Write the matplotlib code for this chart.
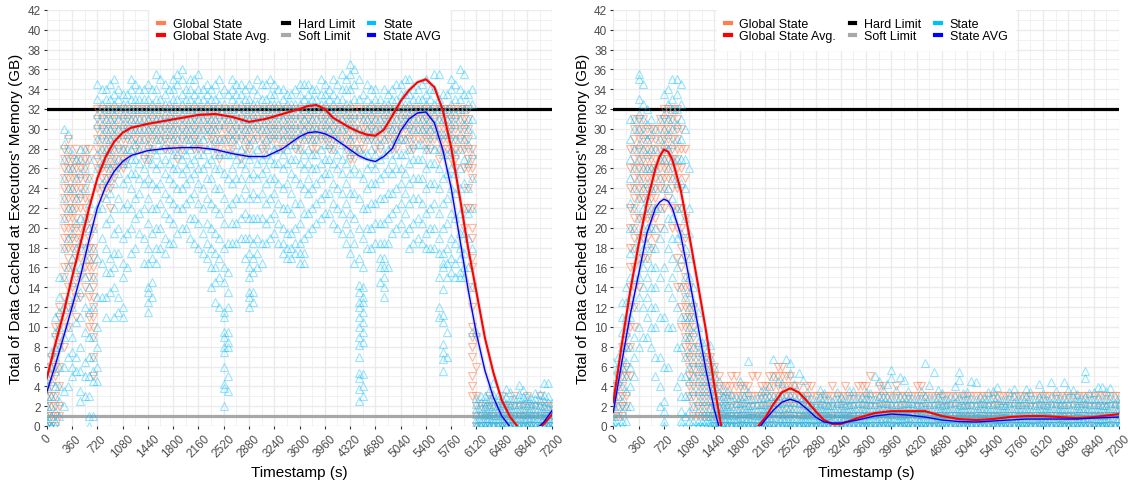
import numpy as np
import matplotlib.pyplot as plt
from matplotlib.lines import Line2D

plt.rcParams['font.family'] = ['Liberation Sans', 'DejaVu Sans']

HARD_LIMIT = 32
SOFT_LIMIT = 1

# ---------------- left run ----------------
# executor state readings, columns every 120 s (two interleaved grids)
left_state_t = list(range(0, 7201, 120))
left_state_y = [
    [0, 0, 0.5, 1, 2, 3, 4, 5, 6],
    [0, 0.5, 1.5, 3, 4, 5.5, 7, 8, 9.5, 11],
    [2, 3.5, 6, 9, 12, 15, 18, 21, 23, 25, 27, 28.5, 30],
    [5, 6, 7.5, 9, 12, 14.5, 17, 19.5, 22, 24, 26, 27.5],
    [2.5, 3.5, 5.5, 8, 11, 13.5, 16, 18.5, 21, 23.5, 25.5, 27, 28],
    [0, 1, 3, 5, 7, 9, 11.5, 14, 17, 20, 22.5, 25, 27],
    [4.5, 6, 8, 10, 13, 17, 22, 26, 27.5, 29, 30.5, 31.5, 33, 34.5],
    [11, 13, 15.5, 18, 20.5, 23, 25, 26.5, 28, 29, 30, 31, 32, 33, 34],
    [11, 14, 16, 17.5, 19.5, 22, 24.5, 26.5, 28, 29.5, 30.5, 31.5, 32.5, 33.5, 35],
    [11, 12, 15, 16.5, 19, 22, 24.5, 26.5, 28, 29.5, 30.5, 31.5, 32.5, 33.5],
    [17.5, 20, 22, 24, 25.5, 27, 28, 29, 30, 31, 32, 33, 34, 35],
    [19.5, 21.5, 23.5, 25, 26.5, 28, 29, 30, 31, 32, 33, 34],
    [11.5, 12.5, 13.5, 14, 16.5, 18, 20.5, 23, 25, 27, 28.5, 30, 31, 32, 33, 34.5],
    [16.5, 18, 20, 22, 24, 26, 27.5, 29, 30, 31, 32, 33, 34, 35.5],
    [17.5, 19, 21.5, 23.5, 25.5, 27, 28.5, 29.5, 30.5, 31.5, 32.5, 33.5, 34.5],
    [18.5, 20.5, 22.5, 24.5, 26, 27.5, 29, 30, 31, 32, 33, 34, 35],
    [20, 22, 24, 25.5, 27, 28, 29.5, 30.5, 31.5, 32.5, 33.5, 35, 36],
    [19, 21, 23, 25, 26.5, 28, 29, 30, 31, 32, 33, 34, 35],
    [18, 20.5, 22.5, 24.5, 26, 27.5, 29, 30, 31, 32, 33, 34, 35.5],
    [17, 18.5, 20.5, 23, 25, 26.5, 28, 29.5, 30.5, 31.5, 32.5, 33.5, 34.5],
    [12.5, 14.5, 16, 17.5, 19.5, 22, 24, 26, 27.5, 29, 30, 31, 32, 33, 34.5],
    [2, 3.8, 4.2, 6, 7.5, 8, 9, 9.5, 11, 11.5, 14.5, 16, 18, 20.5, 23, 25.5, 27.5, 29, 30.5, 31.5, 32.5, 34],
    [18.5, 20.5, 22.5, 24.5, 26, 27.5, 29, 30, 31, 32, 33, 34, 35],
    [19, 21, 23, 25, 26.5, 28, 29.5, 30.5, 31.5, 32.5, 33.5, 34.5],
    [12, 13, 13.5, 15, 16, 17.5, 19, 21, 23, 25, 27, 28.5, 30, 31, 32, 33, 34.5],
    [16, 17.5, 19, 21, 23, 25, 26.5, 28, 29.5, 30.5, 31.5, 32.5, 33.5, 35],
    [18.5, 20.5, 22.5, 24.5, 26, 27.5, 29, 30, 31, 32, 33, 34.5],
    [19.5, 21.5, 23.5, 25, 26.5, 28, 29.5, 30.5, 31.5, 32.5, 33.5, 34.5],
    [17.5, 18.5, 20, 22, 24, 26, 27.5, 29, 30, 31, 32, 33, 34],
    [17, 18, 19.5, 21.5, 23.5, 25.5, 27, 28.5, 29.5, 30.5, 31.5, 32.5, 33.5],
    [16.5, 17.5, 18.5, 20.5, 22.5, 24.5, 26.5, 28, 29.5, 30.5, 31.5, 32.5, 33.5, 34.5],
    [19.5, 21.5, 23.5, 25, 26.5, 28, 29.5, 30.5, 31.5, 32.5, 33.5, 34.5],
    [20.5, 22.5, 24.5, 26, 27.5, 29, 30, 31, 32, 33, 34],
    [21.5, 23.5, 25.5, 27, 28.5, 29.5, 30.5, 31.5, 32.5, 33.5, 34.5],
    [20.5, 22.5, 24.5, 26.5, 28, 29.5, 30.5, 31.5, 32.5, 33.5, 35],
    [19.5, 21.5, 23.5, 25.5, 27, 28.5, 30, 31, 32, 33, 34, 35.5],
    [17.5, 19.5, 21.5, 23.5, 25.5, 27.5, 29, 30.5, 31.5, 32.5, 34, 35.5, 36.5],
    [2.5, 3.7, 4.8, 5.3, 7, 8.2, 9, 10, 11, 12, 12.5, 13.5, 14.2, 17, 20, 23, 25.5, 28, 30, 31.5, 33, 35],
    [18, 20, 22, 24, 26, 27.5, 29, 30, 31, 32, 33, 34.5],
    [18.5, 20.5, 22.5, 24.5, 26, 27.5, 29, 30, 31, 32, 33, 34],
    [13, 14, 15, 16, 17, 18.5, 20.5, 23, 25.5, 27.5, 29, 30.5, 31.5, 32.5, 34],
    [19.5, 21.5, 23.5, 25.5, 27, 28.5, 30, 31, 32, 33, 34],
    [20.5, 22.5, 24.5, 26, 27.5, 29, 30.5, 31.5, 32.5, 33.5, 34.5],
    [18, 20, 22.5, 24.5, 26.5, 28, 29.5, 30.5, 31.5, 32.5, 33.5, 35],
    [19, 21, 23, 25, 27, 28.5, 30, 31, 32, 33, 34],
    [18, 19.5, 21.5, 24, 26, 28, 29.5, 30.5, 31.5, 32.5, 33.5, 35],
    [18, 20, 22.5, 24.5, 26.5, 28, 29.5, 30.5, 31.5, 32.5, 34, 35.5],
    [5.5, 6.8, 7.5, 8.3, 10.5, 11.2, 13.8, 16, 16.5, 17.5, 20, 22.5, 25, 27.5, 29.5, 31, 32, 33.5],
    [15.5, 17, 19, 21.5, 24, 26, 28, 29.5, 30.5, 31.5, 32.5, 34, 35],
    [15, 15.5, 17, 18, 19.5, 21.5, 24, 26, 28, 29.5, 31, 32, 33, 34, 36],
    [16, 19, 21.5, 24, 26.5, 28.5, 30, 31, 32.5, 33.5],
    [0, 0, 0.3, 0.7, 1.2, 1.7, 2.2, 2.8, 9.5],
    [0, 0, 0.4, 0.8, 1.2, 1.6, 2, 2.5, 3],
    [0, 0, 0.3, 0.7, 1.1, 1.5, 2, 2.5, 3.2, 4.3],
    [0, 0, 0.4, 0.8, 1.3, 1.8, 2.3, 2.8],
    [0, 0, 0.3, 0.7, 1.1, 1.6, 2.1, 2.6, 3.4],
    [0, 0, 0.4, 0.9, 1.3, 1.7, 2.2, 2.7, 3.2, 4.1],
    [0, 0, 0.3, 0.8, 1.2, 1.6, 2.1, 2.6, 3],
    [0, 0, 0.4, 0.8, 1.2, 1.7, 2.2, 2.7, 3.3],
    [0, 0, 0.3, 0.7, 1.1, 1.5, 2, 2.5, 3.1, 4.3],
    [0, 0, 0.4, 0.8, 1.2, 1.7, 2.3],
]
left_state_t_b = list(range(60, 7200, 120))
left_state_y_b = [
    [0, 0, 1, 2, 3, 4.5, 6, 7.5],
    [1, 2.5, 4, 6, 8, 10, 11.5, 13, 15],
    [4, 7, 10, 13, 16, 19, 22, 24, 26, 28, 29.5],
    [5.5, 7, 10.5, 13, 15.5, 18, 20.5, 23, 25, 27],
    [3, 5, 6.5, 9.5, 12, 15, 18, 21, 24, 26, 28],
    [1, 4.5, 5.5, 7, 9, 12, 15, 18, 20],
    [13, 16.5, 19, 22, 24.5, 26.5, 28, 29.5, 30.5, 31.5, 32.5, 34],
    [13.5, 15.5, 17, 21, 23.5, 26, 27.5, 29, 30, 31, 32, 33, 34.5],
    [11.5, 13, 17.5, 20, 23, 25.5, 27, 28.5, 30, 31, 32, 33, 34],
    [16, 19.5, 22.5, 25, 26.5, 28, 29.5, 30.5, 31.5, 32.5, 33.5],
    [18, 21, 23, 25.5, 27, 28.5, 30, 31, 32, 33, 34.5],
    [16.5, 19, 22, 24.5, 26, 27.5, 29, 30, 31, 32, 33, 34],
    [13, 14.5, 17, 19.5, 22, 24.5, 26.5, 28, 29.5, 30.5, 31.5, 32.5, 34],
    [18, 20, 22.5, 24.5, 26.5, 28, 29, 30, 31, 32, 33, 35],
    [18.5, 21, 23, 25, 26.5, 28, 29.5, 30.5, 31.5, 32.5, 34],
    [19.5, 22, 24, 26, 27.5, 29, 30, 31, 32, 33, 34.5, 35.5],
    [20, 22.5, 24.5, 26, 27.5, 29, 30, 31, 32, 33, 34],
    [18.5, 21, 23.5, 25.5, 27, 28.5, 29.5, 30.5, 31.5, 32.5, 33.5, 35],
    [17.5, 19.5, 22, 24, 26, 27.5, 29, 30, 31, 32, 33, 34],
    [14, 16, 18, 20, 22.5, 25, 27, 28.5, 30, 31, 32, 33, 34],
    [12, 15, 17, 19, 21.5, 24, 26, 27.5, 29, 30.5, 31.5, 32.5, 33.5, 35],
    [3.5, 5, 8, 8.5, 9.5, 12, 13.5, 15.5, 18.5, 22, 25, 27.5, 29.5, 31, 32, 33.5],
    [18.5, 20.5, 23, 25, 27, 28.5, 29.5, 30.5, 31.5, 32.5, 33.5, 34.5],
    [17, 19, 21.5, 24, 26, 27.5, 29, 30, 31, 32, 33, 34],
    [12.5, 13.5, 15.5, 17, 18.5, 21, 23.5, 25.5, 27.5, 29, 30.5, 31.5, 32.5, 34],
    [16.5, 18.5, 21, 23.5, 25.5, 27, 28.5, 30, 31, 32, 33, 34.5],
    [19, 21, 23, 25, 27, 28.5, 29.5, 30.5, 31.5, 32.5, 33.5, 35],
    [18.5, 20.5, 22.5, 24.5, 26.5, 28, 29.5, 30.5, 31.5, 32.5, 34],
    [17, 18, 19.5, 22, 24.5, 26.5, 28, 29.5, 30.5, 31.5, 32.5, 33.5],
    [17.5, 18.5, 20, 22.5, 25, 27, 28.5, 29.5, 30.5, 31.5, 32.5, 34],
    [16.5, 17.5, 19, 21.5, 24, 26, 27.5, 29, 30, 31, 32, 33, 34.5],
    [20, 22, 24, 26, 27.5, 29, 30, 31, 32, 33, 34],
    [21, 23, 25, 26.5, 28, 29.5, 30.5, 31.5, 32.5, 33.5, 35],
    [21.5, 23.5, 25.5, 27, 28.5, 30, 31, 32, 33, 34],
    [20, 22, 24, 26, 27.5, 29, 30, 31, 32, 33, 34.5],
    [18.5, 20.5, 22.5, 24.5, 26.5, 28, 29.5, 30.5, 31.5, 32.5, 34, 35],
    [16.5, 18.5, 21, 23.5, 26, 28, 29.5, 30.5, 31.5, 33, 34.5, 36],
    [3, 4, 5.2, 8.5, 9.5, 10.5, 11.5, 12.5, 13, 14, 16, 19, 22, 25, 27.5, 29.5, 31, 32, 33.5],
    [18, 20, 22.5, 24.5, 26.5, 28, 29.5, 30.5, 31.5, 32.5, 34],
    [14.5, 16, 17, 18.5, 20.5, 23, 25, 27, 28.5, 30, 31, 32, 33],
    [16, 18.5, 21, 23.5, 26, 28, 29.5, 30.5, 31.5, 32.5, 33.5],
    [20, 22, 24, 26, 27.5, 29, 30, 31, 32, 33, 34.5],
    [19.5, 21.5, 23.5, 25.5, 27.5, 29, 30.5, 31.5, 32.5, 33.5, 35],
    [18.5, 20.5, 23, 25, 27, 28.5, 30, 31, 32, 33, 34],
    [18.5, 20.5, 22.5, 25, 27, 28.5, 30, 31, 32, 33, 34.5],
    [18, 20, 22, 24.5, 26.5, 28.5, 30, 31, 32, 33, 34],
    [11, 12, 15, 17.5, 19, 21.5, 24, 26, 28, 29.5, 31, 32, 33, 35.5],
    [7, 9.5, 15, 16.5, 18, 20.5, 23, 25.5, 27.5, 29.5, 31, 32, 33.5],
    [15, 16.5, 18.5, 21, 23.5, 25.5, 27.5, 29, 30.5, 31.5, 33, 34.5],
    [15, 16, 17.5, 19.5, 22, 24.5, 27, 29, 30.5, 32, 33.5, 35.5],
    [9.5, 14, 18, 22, 25, 27.5, 29.5, 31, 32.5, 34],
    [0, 0, 0.4, 0.8, 1.3, 1.8, 2.4, 3],
    [0, 0, 0.3, 0.8, 1.2, 1.7, 2.2, 2.7, 3.5],
    [0, 0, 0.4, 0.7, 1.1, 1.6, 2.1, 2.6, 3.1],
    [0, 0, 0.3, 0.8, 1.3, 1.8, 2.3, 2.9, 3.7],
    [0, 0, 0.4, 0.8, 1.2, 1.7, 2.2, 2.8],
    [0, 0, 0.3, 0.7, 1.2, 1.7, 2.3, 2.9, 3.6],
    [0, 0, 0.4, 0.9, 1.3, 1.8, 2.3, 2.8],
    [0, 0, 0.3, 0.8, 1.2, 1.6, 2.1, 2.6, 3.2],
    [0, 0, 0.4, 0.8, 1.3, 1.8, 2.4, 3, 4.3],
]

# global state (integer GB levels), columns every 120 s, two grids
left_global_t = list(range(60, 7200, 120))
left_global_y = [
    [0, 1, 2, 3, 4, 5, 6, 7],
    [1, 2, 4, 6, 8, 9, 10, 11, 12],
    [10, 12, 14, 16, 17, 18, 19, 20, 21, 22, 23, 24, 25, 26, 27, 28, 29],
    [11, 13, 15, 17, 18, 19, 20, 21, 22, 23, 24, 25, 26, 27, 28],
    [14, 16, 18, 20, 21, 22, 23, 24, 25, 26, 27, 28],
    [5, 7, 9, 10, 11, 12, 13, 14, 15, 16, 17, 18, 20],
    [23, 24, 25, 26, 27, 28, 29, 30, 31, 32],
    [22, 24, 25, 26, 27, 28, 29, 30, 31, 32],
    [26, 27, 28, 29, 30, 31, 32],
    [27, 28, 29, 30, 31, 32],
    [28, 29, 30, 31, 32],
    [27, 29, 30, 31, 32],
    [28, 29, 30, 31, 32],
    [29, 30, 31, 32],
    [28, 29, 30, 31, 32],
    [27, 28, 29, 30, 31, 32],
    [29, 30, 31, 32],
    [28, 29, 30, 31, 32],
    [28, 30, 31, 32],
    [29, 30, 31, 32],
    [27, 28, 29, 30, 31, 32],
    [28, 29, 30, 31, 32],
    [29, 30, 31, 32],
    [28, 29, 30, 31, 32],
    [29, 30, 31, 32],
    [28, 29, 30, 31, 32],
    [29, 30, 31, 32],
    [28, 29, 30, 31, 32],
    [29, 30, 31, 32],
    [28, 29, 30, 31, 32],
    [29, 30, 31, 32],
    [28, 29, 30, 31, 32],
    [29, 30, 31, 32],
    [28, 29, 30, 31, 32],
    [29, 30, 31, 32],
    [28, 29, 30, 31, 32],
    [27, 28, 29, 30, 31, 32],
    [28, 29, 30, 31, 32],
    [29, 30, 31, 32],
    [28, 29, 30, 31, 32],
    [29, 30, 31, 32],
    [28, 29, 30, 31, 32],
    [29, 30, 31, 32],
    [28, 29, 30, 31, 32],
    [29, 30, 31, 32],
    [28, 29, 30, 31, 32],
    [27, 28, 29, 30, 31, 32],
    [28, 29, 30, 31, 32],
    [26, 27, 28, 29, 30, 31, 32],
    [20, 22, 26, 28, 29, 30, 31, 32],
    [3, 4, 5, 7, 8, 9, 10, 12, 14, 16, 17, 19, 20, 22, 25, 26, 27, 28],
    [0, 1, 2],
    [0, 1, 2, 3],
    [0, 1, 2],
    [0, 1, 2],
    [0, 1, 2, 3],
    [0, 1, 2],
    [0, 1, 2],
    [0, 1, 2, 3],
    [0, 1, 2],
]
left_global_t_b = list(range(0, 7201, 120))
left_global_y_b = [
    [0, 1, 2, 3, 4],
    [0, 1, 2, 3, 5, 6, 7, 9, 10],
    [8, 11, 13, 15, 16, 18, 19, 20, 21, 22, 23, 24, 25, 26, 27, 28],
    [12, 14, 16, 18, 19, 20, 21, 22, 23, 24, 25, 26, 27],
    [13, 15, 17, 19, 20, 22, 23, 24, 25, 26, 27],
    [10, 11, 13, 15, 16, 17, 18, 19, 21, 23, 25, 27, 28],
    [24, 26, 27, 28, 29, 30, 31, 32],
    [24, 25, 26, 27, 28, 29, 30, 31, 32],
    [25, 26, 27, 28, 29, 30, 31, 32],
    [26, 27, 28, 29, 30, 31, 32],
    [29, 30, 31, 32],
    [28, 29, 30, 31, 32],
    [27, 28, 29, 30, 31, 32],
    [29, 30, 31, 32],
    [28, 29, 30, 31, 32],
    [29, 30, 31, 32],
    [28, 29, 30, 31, 32],
    [29, 30, 31, 32],
    [28, 29, 30, 31, 32],
    [29, 30, 31, 32],
    [28, 29, 30, 31, 32],
    [29, 30, 31, 32],
    [28, 29, 30, 31, 32],
    [27, 29, 30, 31, 32],
    [28, 29, 30, 31, 32],
    [29, 30, 31, 32],
    [28, 29, 30, 31, 32],
    [29, 30, 31, 32],
    [28, 29, 30, 31, 32],
    [29, 30, 31, 32],
    [28, 29, 30, 31, 32],
    [29, 30, 31, 32],
    [28, 29, 30, 31, 32],
    [29, 30, 31, 32],
    [28, 29, 30, 31, 32],
    [29, 30, 31, 32],
    [27, 28, 29, 30, 31, 32],
    [28, 29, 30, 31, 32],
    [29, 30, 31, 32],
    [28, 29, 30, 31, 32],
    [29, 30, 31, 32],
    [28, 29, 30, 31, 32],
    [29, 30, 31, 32],
    [28, 29, 30, 31, 32],
    [29, 30, 31, 32],
    [28, 29, 30, 31, 32],
    [29, 30, 31, 32],
    [28, 29, 30, 31, 32],
    [27, 28, 29, 30, 31, 32],
    [28, 29, 30, 31, 32],
    [22, 24, 26, 27, 28, 29, 30, 31, 32],
    [0, 1, 2, 3, 6, 9],
    [0, 1, 2],
    [0, 1, 2],
    [0, 1, 2, 3],
    [0, 1, 2],
    [0, 1, 2],
    [0, 1, 2, 3],
    [0, 1, 2],
    [0, 1, 2],
    [0, 1, 2],
]

# smoothed averages
left_avg_t = [0, 120, 240, 360, 480, 600, 720, 840, 960, 1080, 1200, 1440, 1680,
              1920, 2160, 2400, 2640, 2880, 3120, 3360, 3600, 3720, 3840, 3960,
              4080, 4200, 4320, 4440, 4560, 4680, 4800, 4920, 5040, 5160, 5280,
              5400, 5520, 5640, 5760, 5880, 6000, 6120, 6240, 6360, 6480, 6600,
              6720, 6840, 6960, 7080, 7200]
left_global_avg = [4.8, 8.2, 11.4, 15.0, 18.4, 21.9, 25.0, 27.2, 28.7, 29.6, 30.1,
                   30.5, 30.8, 31.1, 31.4, 31.5, 31.2, 30.7, 31.0, 31.5, 32.0, 32.3,
                   32.4, 32.0, 31.1, 30.6, 30.1, 29.7, 29.4, 29.3, 29.9, 31.3, 32.8,
                   33.9, 34.7, 35.0, 34.2, 31.9, 28.1, 23.2, 18.0, 13.5, 8.9, 5.4,
                   2.6, 0.9, -0.2, -0.6, -0.5, 0.2, 1.2]
left_state_avg = [3.4, 6.1, 9.0, 12.0, 15.1, 18.7, 22.0, 24.2, 25.7, 26.7, 27.3,
                  27.8, 28.0, 28.1, 28.1, 27.9, 27.5, 27.2, 27.2, 28.0, 29.2, 29.6,
                  29.7, 29.5, 29.1, 28.5, 27.9, 27.3, 26.9, 26.7, 27.2, 28.0, 29.8,
                  31.0, 31.6, 31.7, 30.6, 27.9, 24.0, 19.0, 13.8, 9.3, 5.6, 2.9,
                  1.0, -0.1, -0.6, -0.7, -0.4, 0.4, 1.6]

# ---------------- right run ----------------
right_state_t = list(range(0, 7201, 120))
right_state_y = [
    [0, 0, 0.5, 1, 2, 3, 4, 5, 6.5],
    [0, 0.5, 1.5, 2.5, 4, 5, 6, 7, 8, 9.5, 11, 12.5],
    [2, 4, 6, 8, 11, 13, 15, 17.5, 20, 22.5, 25, 27, 29, 31],
    [8, 10, 13, 15, 17, 19, 21, 23, 25, 27, 28.5, 30, 31.5, 33, 35, 35.5],
    [9, 11, 13, 15, 17, 18.5, 20, 21.5, 23, 24.5, 26, 27.5, 29, 30.5, 32],
    [5, 7, 10, 12, 14, 16, 18, 20, 22, 24, 26, 28, 30],
    [0, 0.5, 1.5, 2.5, 6, 11, 16, 20, 24, 27, 28.5, 30, 31.5, 33.5],
    [10, 13, 15, 17, 19, 21, 23, 25, 27, 28.5, 30, 31, 32, 33, 35],
    [0, 0.5, 1.5, 3, 5, 8, 11, 14, 17, 19.5, 22, 24.5, 27, 29, 31, 32.5, 34.5],
    [0.5, 1.5, 3, 4.5, 6, 7.5, 9, 10, 11, 12, 13.5, 15, 17, 19.5, 22, 26],
    [0, 0, 0.5, 1.5, 2.5, 3.5, 4.5, 5.5, 6.5, 7.5, 8.5, 10, 11.5],
    [0, 0, 0.5, 1, 1.5, 2.5, 3.5, 4.5, 5.5, 6.5, 7.5, 8.6],
    [0, 0, 0.4, 0.8, 1.3, 1.8, 2.5, 3.2, 4, 5, 6],
    [0, 0, 0.4, 0.8, 1.2, 1.6, 2, 2.5, 3, 3.6],
    [0, 0, 0.3, 0.7, 1.1, 1.5, 2, 2.6, 3.2],
    [0, 0, 0.4, 0.9, 1.3, 1.8, 2.3, 2.8, 4.5],
    [0, 0, 0.3, 0.8, 1.2, 1.6, 2.1, 2.7, 3.4, 6.6],
    [0, 0, 0.4, 0.7, 1.1, 1.6, 2.2, 2.8],
    [0, 0, 0.3, 0.8, 1.3, 1.7, 2.2, 2.9, 3.6],
    [0, 0, 0.4, 0.9, 1.4, 1.9, 2.4, 3, 5, 6.8],
    [0, 0, 0.3, 0.8, 1.2, 1.7, 2.3, 3, 4.3],
    [0, 0, 0.4, 0.8, 1.3, 1.8, 2.4, 3.1, 5.3, 6.4],
    [0, 0, 0.3, 0.7, 1.2, 1.7, 2.3, 2.9, 5.3],
    [0, 0, 0.4, 0.8, 1.2, 1.6, 2.1, 2.7, 3.4],
    [0, 0, 0.3, 0.7, 1.1, 1.6, 2.1, 2.6],
    [0, 0, 0.4, 0.8, 1.3, 1.7, 2.2, 2.8, 3.3],
    [0, 0, 0.3, 0.7, 1.2, 1.6, 2.1, 2.5],
    [0, 0, 0.4, 0.9, 1.3, 1.8, 2.3, 2.9],
    [0, 0, 0.3, 0.8, 1.2, 1.7, 2.2, 2.7, 3.5],
    [0, 0, 0.4, 0.8, 1.3, 1.8, 2.3, 2.8],
    [0, 0, 0.3, 0.7, 1.2, 1.7, 2.2, 2.8, 3.4],
    [0, 0, 0.4, 0.8, 1.2, 1.6, 2.2, 2.7, 5],
    [0, 0, 0.3, 0.8, 1.3, 1.8, 2.3, 2.9, 3.6],
    [0, 0, 0.4, 0.8, 1.2, 1.7, 2.2, 2.8, 4.8, 5.7],
    [0, 0, 0.3, 0.7, 1.1, 1.6, 2.2, 2.9, 4.9],
    [0, 0, 0.4, 0.9, 1.3, 1.8, 2.3, 2.8, 3.5],
    [0, 0, 0.3, 0.8, 1.2, 1.7, 2.2, 2.7],
    [0, 0, 0.4, 0.8, 1.3, 1.8, 2.4, 3, 6.4],
    [0, 0, 0.3, 0.7, 1.2, 1.7, 2.2, 2.8, 5.4],
    [0, 0, 0.4, 0.8, 1.2, 1.6, 2.1, 2.6, 3.3],
    [0, 0, 0.3, 0.8, 1.3, 1.8, 2.3, 2.9],
    [0, 0, 0.4, 0.9, 1.3, 1.7, 2.2, 2.8, 4.6, 5.4],
    [0, 0, 0.3, 0.7, 1.2, 1.7, 2.2, 2.7, 3.4],
    [0, 0, 0.4, 0.8, 1.2, 1.6, 2.1, 2.7, 4.4],
    [0, 0, 0.3, 0.8, 1.3, 1.8, 2.3, 2.8],
    [0, 0, 0.4, 0.8, 1.2, 1.7, 2.2, 2.9, 3.5],
    [0, 0, 0.3, 0.7, 1.2, 1.6, 2.1, 2.6],
    [0, 0, 0.4, 0.9, 1.3, 1.8, 2.3, 2.8, 3.4],
    [0, 0, 0.3, 0.8, 1.2, 1.7, 2.2, 2.7],
    [0, 0, 0.4, 0.8, 1.3, 1.8, 2.4, 3, 3.7],
    [0, 0, 0.3, 0.7, 1.1, 1.6, 2.1, 2.7],
    [0, 0, 0.4, 0.8, 1.2, 1.7, 2.2, 2.8, 3.3],
    [0, 0, 0.3, 0.8, 1.3, 1.8, 2.3, 2.9, 4.4],
    [0, 0, 0.4, 0.9, 1.3, 1.7, 2.2, 2.7],
    [0, 0, 0.3, 0.7, 1.2, 1.7, 2.2, 2.8, 3.6],
    [0, 0, 0.4, 0.8, 1.2, 1.6, 2.1, 2.6, 3.2],
    [0, 0, 0.3, 0.8, 1.3, 1.8, 2.3, 2.9, 4.8, 5.6],
    [0, 0, 0.4, 0.8, 1.2, 1.7, 2.2, 2.7, 3.4],
    [0, 0, 0.3, 0.7, 1.1, 1.6, 2.1, 2.6, 3.9],
    [0, 0, 0.4, 0.9, 1.3, 1.8, 2.3, 2.8, 3.8],
    [0, 0, 0.3, 0.8, 1.2, 1.7, 2.2, 2.7],
]
right_state_t_b = list(range(60, 7200, 120))
right_state_y_b = [
    [0, 0, 1, 2, 3, 4.5, 6, 7],
    [0.5, 2, 3.5, 5, 6.5, 8, 9.5, 11, 12.5, 14],
    [5, 7, 9, 12, 15, 18, 20, 22, 24, 26, 28, 30, 31],
    [9, 12, 14, 16, 18, 20, 22, 24, 26, 28, 29.5, 31, 32.5, 34.5],
    [8, 10, 12, 14, 16, 18, 20, 22, 24, 26, 28, 29.5, 31],
    [2, 4, 7, 11, 15, 19, 22, 25, 27, 29, 31],
    [6, 10, 14, 18, 21, 24, 26, 28, 29.5, 31, 32.5, 34],
    [4, 8, 12, 16, 19, 22, 24.5, 27, 29, 30.5, 32, 33.5, 35],
    [0, 1, 3, 5, 7, 9, 11, 13, 15, 18, 21, 24, 27, 30],
    [0, 0.5, 2, 3.5, 5, 6.5, 8, 9.5, 11, 12.5, 14],
    [0, 0, 0.5, 1.5, 2.5, 3.5, 4.5, 5.5, 6.5, 7.5, 8.5],
    [0, 0, 0.4, 1, 1.8, 2.6, 3.5, 4.5, 5.5, 7, 8.2],
    [0, 0, 0.4, 0.8, 1.3, 1.9, 2.6, 3.4, 4.5],
    [0, 0, 0.3, 0.8, 1.2, 1.7, 2.2, 2.8, 3.5],
    [0, 0, 0.4, 0.7, 1.2, 1.7, 2.3, 2.9],
    [0, 0, 0.3, 0.8, 1.3, 1.8, 2.4, 3, 3.8],
    [0, 0, 0.4, 0.8, 1.2, 1.6, 2.1, 2.7],
    [0, 0, 0.3, 0.7, 1.2, 1.7, 2.2, 2.8, 3.5],
    [0, 0, 0.4, 0.9, 1.3, 1.8, 2.4, 3, 4],
    [0, 0, 0.3, 0.8, 1.3, 1.8, 2.4, 3.1, 4.5],
    [0, 0, 0.4, 0.8, 1.3, 1.9, 2.5, 3.2, 6.8],
    [0, 0, 0.3, 0.8, 1.3, 1.8, 2.4, 3, 4.2],
    [0, 0, 0.4, 0.8, 1.2, 1.7, 2.3, 2.9, 4.6],
    [0, 0, 0.3, 0.7, 1.2, 1.7, 2.2, 2.8],
    [0, 0, 0.4, 0.8, 1.3, 1.8, 2.3, 2.9, 3.6],
    [0, 0, 0.3, 0.7, 1.1, 1.6, 2.1, 2.7],
    [0, 0, 0.4, 0.9, 1.3, 1.8, 2.3, 2.8, 3.4],
    [0, 0, 0.3, 0.8, 1.2, 1.6, 2.1, 2.6],
    [0, 0, 0.4, 0.8, 1.3, 1.7, 2.2, 2.8, 3.5],
    [0, 0, 0.3, 0.7, 1.2, 1.7, 2.3, 2.9],
    [0, 0, 0.4, 0.8, 1.2, 1.7, 2.2, 2.7, 3.3],
    [0, 0, 0.3, 0.8, 1.3, 1.8, 2.4, 3, 4.5],
    [0, 0, 0.4, 0.9, 1.3, 1.8, 2.3, 2.9, 4.2],
    [0, 0, 0.3, 0.7, 1.2, 1.7, 2.2, 2.8, 3.6],
    [0, 0, 0.4, 0.8, 1.2, 1.7, 2.3, 2.9, 4.6],
    [0, 0, 0.3, 0.8, 1.3, 1.8, 2.3, 2.8],
    [0, 0, 0.4, 0.8, 1.2, 1.6, 2.1, 2.7, 3.5],
    [0, 0, 0.3, 0.7, 1.2, 1.7, 2.2, 2.8, 4.1],
    [0, 0, 0.4, 0.9, 1.3, 1.8, 2.3, 2.9, 3.6],
    [0, 0, 0.3, 0.8, 1.2, 1.7, 2.2, 2.7],
    [0, 0, 0.4, 0.8, 1.3, 1.8, 2.4, 3, 4],
    [0, 0, 0.3, 0.7, 1.1, 1.6, 2.1, 2.6, 3.3],
    [0, 0, 0.4, 0.8, 1.2, 1.7, 2.2, 2.8, 4.5],
    [0, 0, 0.3, 0.8, 1.3, 1.8, 2.3, 2.9],
    [0, 0, 0.4, 0.9, 1.3, 1.7, 2.2, 2.7, 3.4],
    [0, 0, 0.3, 0.7, 1.2, 1.7, 2.3, 2.9, 3.9],
    [0, 0, 0.4, 0.8, 1.2, 1.6, 2.1, 2.6],
    [0, 0, 0.3, 0.8, 1.3, 1.8, 2.4, 3, 3.7],
    [0, 0, 0.4, 0.8, 1.2, 1.7, 2.2, 2.8],
    [0, 0, 0.3, 0.7, 1.2, 1.7, 2.2, 2.7, 3.4],
    [0, 0, 0.4, 0.9, 1.3, 1.8, 2.3, 2.9, 4.2],
    [0, 0, 0.3, 0.8, 1.2, 1.6, 2.1, 2.6],
    [0, 0, 0.4, 0.8, 1.3, 1.8, 2.3, 2.8, 3.5],
    [0, 0, 0.3, 0.7, 1.2, 1.7, 2.2, 2.8, 4.4],
    [0, 0, 0.4, 0.8, 1.2, 1.7, 2.3, 2.9, 3.6],
    [0, 0, 0.3, 0.8, 1.3, 1.8, 2.3, 2.8],
    [0, 0, 0.4, 0.9, 1.3, 1.7, 2.2, 2.7, 3.3],
    [0, 0, 0.3, 0.7, 1.2, 1.7, 2.2, 2.8, 3.9],
    [0, 0, 0.4, 0.8, 1.2, 1.6, 2.1, 2.7, 3.5],
    [0, 0, 0.3, 0.8, 1.3, 1.8, 2.3, 2.9],
]

right_global_t = list(range(60, 7200, 120))
right_global_y = [
    [1, 2, 3, 4, 5],
    [2, 3, 5, 6, 8, 9, 10],
    [10, 12, 14, 16, 18, 19, 20, 21, 22, 23, 24, 25, 26, 27, 28, 29, 30, 31],
    [17, 19, 21, 23, 24, 25, 26, 27, 28, 29, 30, 31],
    [18, 20, 21, 22, 23, 24, 25, 26, 27, 28, 29, 30],
    [20, 22, 24, 25, 26, 27, 28, 29, 30, 31],
    [23, 25, 26, 27, 28, 29, 30, 31, 32],
    [14, 17, 20, 22, 24, 25, 26, 27, 28, 29, 30, 31, 32],
    [7, 8, 9, 10, 11, 12, 13, 14, 15, 17, 19, 21, 25, 28],
    [1, 2, 3, 4, 5, 6, 7, 8, 9, 10, 11, 12],
    [1, 2, 3, 4, 5, 6, 7],
    [1, 2, 3, 4, 5, 6, 7],
    [0, 1, 2, 3, 4, 5],
    [0, 1, 2, 3, 4],
    [0, 1, 2, 3, 4, 5],
    [0, 1, 2, 3, 4],
    [0, 1, 2, 3, 5],
    [0, 1, 2, 3, 4],
    [0, 1, 2, 3, 4, 5],
    [0, 1, 2, 3, 4, 5, 6],
    [0, 1, 2, 3, 4, 5],
    [0, 1, 2, 3, 4],
    [0, 1, 2, 3],
    [0, 1, 2, 3, 4],
    [0, 1, 2, 3],
    [0, 1, 2, 3],
    [0, 1, 2, 3],
    [0, 1, 2, 3, 4],
    [0, 1, 2, 3],
    [0, 1, 2, 3, 4],
    [0, 1, 2, 3, 5],
    [0, 1, 2, 3, 4],
    [0, 1, 2, 3],
    [0, 1, 2, 3, 4],
    [0, 1, 2, 3],
    [0, 1, 2, 3],
    [0, 1, 2, 3, 4],
    [0, 1, 2, 3],
    [0, 1, 2, 3],
    [0, 1, 2, 3],
    [0, 1, 2, 3],
    [0, 1, 2, 3],
    [0, 1, 2, 3],
    [0, 1, 2, 3],
    [0, 1, 2, 3],
    [0, 1, 2, 3],
    [0, 1, 2, 3],
    [0, 1, 2, 3],
    [0, 1, 2, 3],
    [0, 1, 2, 3],
    [0, 1, 2, 3],
    [0, 1, 2, 3],
    [0, 1, 2, 3],
    [0, 1, 2, 3],
    [0, 1, 2, 3],
    [0, 1, 2, 3],
    [0, 1, 2, 3],
    [0, 1, 2, 3],
    [0, 1, 2, 3],
    [0, 1, 2, 3],
]
right_global_t_b = list(range(0, 7201, 120))
right_global_y_b = [
    [1, 2, 3, 4],
    [1, 2, 3, 4, 5, 6, 8],
    [5, 8, 10, 12, 14, 16, 18, 20, 22, 24, 26, 28],
    [14, 17, 19, 21, 23, 24, 25, 26, 27, 28, 29, 30, 31],
    [17, 19, 21, 22, 23, 24, 25, 26, 27, 28, 29, 30],
    [19, 21, 23, 24, 25, 26, 27, 28, 29, 30],
    [22, 24, 25, 26, 27, 28, 29, 30, 31, 32],
    [20, 22, 24, 25, 26, 27, 28, 29, 30, 31, 32],
    [10, 12, 14, 16, 18, 20, 22, 24, 26, 28, 30],
    [3, 4, 5, 6, 7, 8, 9, 10, 11, 12, 14],
    [1, 2, 3, 4, 5, 6, 7, 8],
    [1, 2, 3, 4, 5, 6, 7],
    [0, 1, 2, 3, 4, 5, 6],
    [0, 1, 2, 3, 4],
    [0, 1, 2, 3, 4, 5],
    [0, 1, 2, 3, 4],
    [0, 1, 2, 3, 4],
    [0, 1, 2, 3, 5],
    [0, 1, 2, 3, 4],
    [0, 1, 2, 3, 4, 5],
    [0, 1, 2, 3, 4, 5, 6],
    [0, 1, 2, 3, 4, 5],
    [0, 1, 2, 3, 4],
    [0, 1, 2, 3, 4],
    [0, 1, 2, 3],
    [0, 1, 2, 3],
    [0, 1, 2, 3, 4],
    [0, 1, 2, 3],
    [0, 1, 2, 3],
    [0, 1, 2, 3, 4],
    [0, 1, 2, 3, 4],
    [0, 1, 2, 3],
    [0, 1, 2, 3, 4],
    [0, 1, 2, 3],
    [0, 1, 2, 3],
    [0, 1, 2, 3],
    [0, 1, 2, 3, 4],
    [0, 1, 2, 3],
    [0, 1, 2, 3],
    [0, 1, 2, 3],
    [0, 1, 2, 3],
    [0, 1, 2, 3],
    [0, 1, 2, 3],
    [0, 1, 2, 3],
    [0, 1, 2, 3],
    [0, 1, 2, 3],
    [0, 1, 2, 3],
    [0, 1, 2, 3],
    [0, 1, 2, 3],
    [0, 1, 2, 3],
    [0, 1, 2, 3],
    [0, 1, 2, 3],
    [0, 1, 2, 3],
    [0, 1, 2, 3],
    [0, 1, 2, 3],
    [0, 1, 2, 3],
    [0, 1, 2, 3],
    [0, 1, 2, 3],
    [0, 1, 2, 3],
    [0, 1, 2, 3],
    [0, 1, 2, 3],
]

right_avg_t = [0, 120, 240, 360, 480, 600, 660, 720, 780, 840, 960, 1080, 1200,
               1320, 1440, 1560, 1680, 1800, 1920, 2040, 2160, 2280, 2400, 2520,
               2640, 2760, 2880, 3000, 3120, 3240, 3480, 3720, 3960, 4200, 4440,
               4680, 4920, 5160, 5400, 5640, 5880, 6120, 6360, 6600, 6840, 7200]
right_global_avg = [2.4, 8.2, 13.6, 18.3, 22.6, 26.0, 27.2, 27.9, 27.7, 26.9, 23.8,
                    19.3, 14.5, 9.6, 4.0, -1.0, -1.6, -1.5, -1.0, -0.2, 0.8, 2.2,
                    3.4, 3.8, 3.4, 2.5, 1.5, 0.6, 0.2, 0.2, 0.8, 1.3, 1.5, 1.5,
                    1.5, 1.0, 0.7, 0.6, 0.7, 0.9, 1.0, 1.0, 0.9, 0.8, 0.9, 1.2]
right_state_avg = [1.4, 6.4, 11.2, 15.3, 19.5, 22.0, 22.6, 22.9, 22.7, 22.0, 19.3,
                   14.9, 10.3, 5.6, 1.6, -1.5, -2.2, -2.0, -1.4, -0.6, 0.6, 1.6,
                   2.4, 2.7, 2.4, 1.7, 0.9, 0.4, 0.3, 0.3, 0.6, 1.0, 1.2, 1.1,
                   0.9, 0.6, 0.45, 0.4, 0.5, 0.6, 0.7, 0.7, 0.7, 0.7, 0.8, 0.9]

STATE_C = '#00BFFF'
GLOBAL_C = '#FF7F50'
GAVG_C = '#FF0000'
SAVG_C = '#0000FF'
SOFT_C = '#A8A8A8'


def flat(grids):
    xs, ys = [], []
    for times, cols in grids:
        for t, col in zip(times, cols):
            for v in col:
                xs.append(t)
                ys.append(v)
    return xs, ys


def draw(ax, state_grids, global_grids, avg_t, g_avg, s_avg):
    ax.axhline(HARD_LIMIT, color='black', lw=2.3, zorder=1)
    ax.axhline(SOFT_LIMIT, color=SOFT_C, lw=2.3, zorder=1)

    gx, gy = flat(global_grids)
    ax.plot(gx, gy, 'v', ms=5.5, mfc='none', mec=GLOBAL_C, mew=0.8,
            alpha=0.55, zorder=2)
    sx, sy = flat(state_grids)
    ax.plot(sx, sy, '^', ms=5.5, mfc='none', mec=STATE_C, mew=0.8,
            alpha=0.4, zorder=3)

    # confidence ribbon (thin grey halo) then the smoothers
    ax.plot(avg_t, g_avg, color='#999999', lw=3, alpha=0.25, zorder=4)
    ax.plot(avg_t, s_avg, color='#999999', lw=3, alpha=0.25, zorder=4)
    ax.plot(avg_t, g_avg, color=GAVG_C, lw=1.5, zorder=5)
    ax.plot(avg_t, s_avg, color=SAVG_C, lw=1.0, zorder=5)

    ax.set_xlim(0, 7200)
    ax.set_ylim(0, 42)
    ax.set_xticks(range(0, 7201, 360))
    ax.set_xticks(range(180, 7200, 360), minor=True)
    ax.set_yticks(range(0, 43, 2))
    ax.set_yticks(range(1, 42, 2), minor=True)
    ax.set_xticklabels([str(v) for v in range(0, 7201, 360)], rotation=45,
                       ha='center', va='top')
    ax.grid(which='major', color='#EBEBEB', lw=1.0, zorder=0)
    ax.grid(which='minor', color='#EFEFEF', lw=0.6, zorder=0)
    ax.set_axisbelow(True)
    for s in ax.spines.values():
        s.set_visible(False)
    ax.tick_params(which='major', length=2.5, width=0.8, color='#333333',
                   labelcolor='#4D4D4D', labelsize=8.5, pad=2)
    ax.tick_params(which='minor', length=0)
    ax.set_xlabel('Timestamp (s)', fontsize=11, labelpad=4)
    ax.set_ylabel("Total of Data Cached at Executors' Memory (GB)", fontsize=11,
                  labelpad=3)

    handles = [
        Line2D([], [], color=GLOBAL_C, lw=3),
        Line2D([], [], color=GAVG_C, lw=3),
        Line2D([], [], color='black', lw=3),
        Line2D([], [], color=SOFT_C, lw=3),
        Line2D([], [], color=STATE_C, lw=3),
        Line2D([], [], color=SAVG_C, lw=3),
    ]
    labels = ['Global State', 'Global State Avg.', 'Hard Limit', 'Soft Limit',
              'State', 'State AVG']
    leg = ax.legend(handles, labels, ncol=3, loc='upper center',
                    bbox_to_anchor=(0.5, 1.0), fontsize=9, frameon=True,
                    framealpha=1, edgecolor='white', fancybox=False,
                    handlelength=0.45, handletextpad=0.7, columnspacing=1.1,
                    labelspacing=0.0, borderpad=0.65, borderaxespad=0.0)
    leg.set_zorder(10)


fig = plt.figure(figsize=(11.4, 4.81), dpi=100)
ax1 = fig.add_axes([0.041, 0.1123, 0.4435, 0.865])
ax2 = fig.add_axes([0.538, 0.1123, 0.4435, 0.865])

draw(ax1,
     [(left_state_t, left_state_y), (left_state_t_b, left_state_y_b)],
     [(left_global_t, left_global_y), (left_global_t_b, left_global_y_b)],
     left_avg_t, left_global_avg, left_state_avg)
draw(ax2,
     [(right_state_t, right_state_y), (right_state_t_b, right_state_y_b)],
     [(right_global_t, right_global_y), (right_global_t_b, right_global_y_b)],
     right_avg_t, right_global_avg, right_state_avg)

fig.savefig('out.png', dpi=100)
